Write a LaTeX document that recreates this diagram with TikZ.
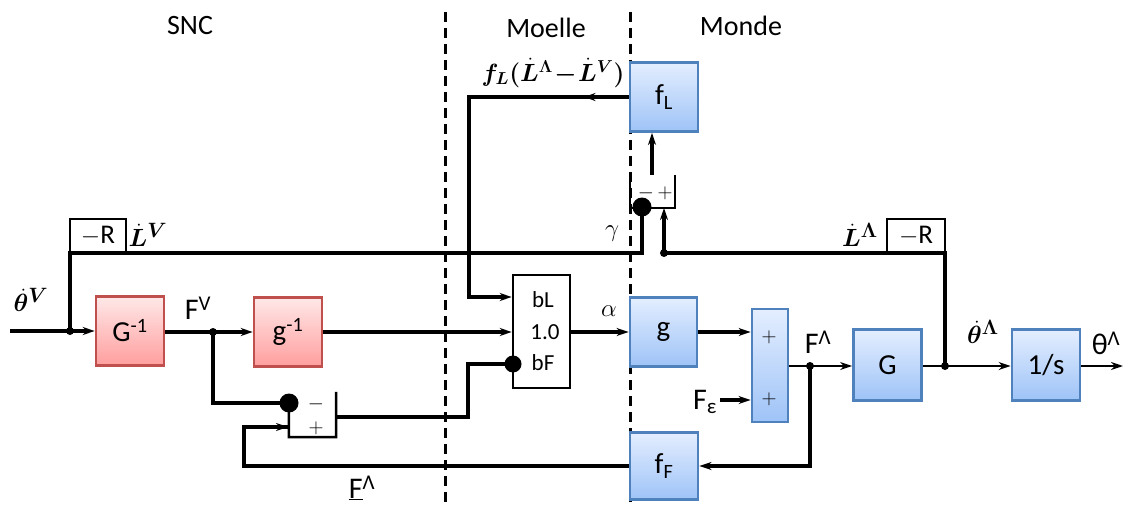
\documentclass[tikz,border=0pt]{standalone}
\usepackage{fontspec}
\setmainfont{Carlito}
\usepackage{bm}
\usetikzlibrary{arrows.meta,decorations.markings}
\definecolor{redtop}{RGB}{255,232,232}
\definecolor{redbot}{RGB}{255,158,158}
\definecolor{redborder}{RGB}{192,80,77}
\definecolor{bluetop}{RGB}{228,238,255}
\definecolor{bluebot}{RGB}{158,195,247}
\definecolor{blueborder}{RGB}{79,129,189}
\tikzset{
  wire/.style={line width=3.4pt},
  thinwire/.style={line width=2.5pt},
  conn/.style={wire, -{Stealth[length=12pt,width=8pt]}},
  thinconn/.style={thinwire, -{Stealth[length=12pt,width=8pt]}},
  blockbase/.style={inner sep=0pt, font=\fontsize{29}{30}\selectfont},
  redblock/.style={blockbase, draw=redborder, line width=2.6pt, top color=redtop, bottom color=redbot, minimum width=68pt, minimum height=69pt},
  blueblock/.style={blockbase, draw=blueborder, line width=2.8pt, top color=bluetop, bottom color=bluebot, minimum width=68pt, minimum height=69pt},
  wbox/.style={blockbase, draw, line width=2.6pt, fill=white},
  lbl/.style={inner sep=0pt, font=\fontsize{30}{32}\selectfont},
  mlbl/.style={inner sep=0pt, font=\fontsize{29}{30}\selectfont},
  sign/.style={inner sep=0pt, font=\fontsize{21}{21}\selectfont},
  muxtxt/.style={inner sep=0pt, font=\fontsize{23}{24}\selectfont},
  hdr/.style={inner sep=0pt, font=\fontsize{28}{30}\selectfont},
  divider/.style={line width=3pt, dash pattern=on 10pt off 6pt},
  midarrow/.style={postaction={decorate}, decoration={markings, mark=at position #1 with {\arrow{Stealth[length=12pt,width=8pt]}}}},
}
\begin{document}
\begin{tikzpicture}[x=1pt,y=-1pt]
\useasboundingbox (0,0) rectangle (1125,508);

% dividers
\draw[divider] (445,12) -- (445,508);
\draw[divider] (630,12) -- (630,508);

% headers
\node[hdr] (hSNC) at (190,26) {SNC};
\node[hdr] (hMo) at (546,28) {Moelle};
\node[hdr] (hMd) at (741,26) {Monde};

% blocks
\node[redblock] (Ginv) at (130,331) {G\textsuperscript{-1}};
\node[redblock] (ginv) at (288,332) {g\textsuperscript{-1}};
\node[wbox, minimum width=57pt, minimum height=113pt] (mux) at (541.5,331.5) {};
\node[muxtxt] (mbL) at (543,300) {bL};
\node[muxtxt] (m10) at (545,332) {1.0};
\node[muxtxt] (mbF) at (543,363) {bF};
\node[blueblock, minimum width=67pt] (g) at (663.5,332) {g};
\node[blueblock, minimum width=36pt, minimum height=113pt] (sumR) at (770,365.5) {};
\node[sign] (sR1) at (769,337) {$+$};
\node[sign] (sR2) at (769,399) {$+$};
\node[blueblock, minimum height=71pt] (G) at (887.5,365) {G};
\node[blueblock, minimum height=71pt] (inte) at (1046,365) {1/s};
\node[blueblock] (fL) at (664,97) {f\textsubscript{L}};
\node[blueblock, minimum height=67pt] (fF) at (664,466) {f\textsubscript{F}};
\node[wbox, minimum width=56pt, minimum height=34pt, font=\fontsize{27}{28}\selectfont] (RL) at (98,236) {$-$R};
\node[wbox, minimum width=58pt, minimum height=34pt, font=\fontsize{27}{28}\selectfont] (RR) at (916,236) {$-$R};

% summing boxes (open top)
\node[minimum width=45pt, minimum height=33pt, inner sep=0pt] (s1) at (652.5,191.5) {};
\draw[thinwire] (s1.north west) -- (s1.south west) -- (s1.south east) -- (s1.north east);
\node[sign] (s1m) at (646,193) {$-$};
\node[sign] (s1p) at (665,193) {$+$};
\node[minimum width=47pt, minimum height=45pt, inner sep=0pt] (s2) at (312.5,414.5) {};
\draw[thinwire] (s2.north east) -- (s2.south east) -- (s2.south west) -- (289,395);
\node[sign] (s2m) at (316,404) {$-$};
\node[sign] (s2p) at (316,428) {$+$};

% coordinates
\coordinate (in) at (10,331);
\coordinate (j1) at (70,331);
\coordinate (jFV) at (213,332);
\coordinate (gturn) at (642,253);
\coordinate (s1dot) at (642,207);
\coordinate (jL) at (664,253);
\coordinate (s1plus) at (664,208);
\coordinate (s1out) at (652,175);
\coordinate (bLturn) at (469,297);
\coordinate (jF) at (810,366);
\coordinate (jTh) at (945,366);
\coordinate (out) at (1123,366);
\coordinate (fFturn) at (810,466);
\coordinate (fbturn) at (244,466);
\coordinate (s2plus) at (288,427);
\coordinate (s2dot) at (289,403);
\coordinate (s2out) at (336,417);
\coordinate (bFturn) at (468,364);
\coordinate (bFdot) at (513,364);
\coordinate (epsin) at (720,400);

% connectors
\draw[wire] (in) -- (j1);
\draw[conn] (j1) -- (Ginv.west);
\draw[wire] (Ginv.east |- jFV) -- (jFV);
\draw[conn] (jFV) -- (ginv.west |- jFV);
\draw[conn] (ginv.east) -- (ginv.east -| mux.west);
\draw[wire] (j1) |- (gturn) -- (s1dot);
\draw[wire] (jTh) |- (jL);
\draw[conn] (jL) -- (s1plus);
\draw[conn] (s1out) -- (s1out |- fL.south);
\draw[conn, midarrow=45pt] (fL.west) -| (bLturn) -- (bLturn -| mux.west);
\draw[conn] (mux.east |- m10) -- (g.west |- m10);
\draw[conn] (g.east) -- (g.east -| sumR.west);
\node[lbl] (Feps) at (705,402) {F\textsubscript{ε}};
\draw[conn] (epsin) -- (sumR.west |- epsin);
\draw[thinwire] (sumR.east |- jF) -- (jF);
\draw[thinconn] (jF) -- (G.west |- jF);
\draw[thinwire] (G.east |- jTh) -- (jTh);
\draw[thinconn] (jTh) -- (inte.west |- jTh);
\draw[thinconn] (inte.east |- jTh) -- (out);
\draw[conn] (jF) -- (fFturn) -- (fF.east);
\draw[wire] (fF.west) -- (fbturn) |- (s2plus);
\draw[conn] (fbturn |- s2plus) -- (s2plus);
\draw[wire] (jFV) |- (s2dot);
\draw[wire] (s2out) -| (bFturn) -- (bFdot);

% dots
\foreach \p in {j1,jFV,jL,jF,jTh} \fill (\p) circle (4pt);
\fill (s1dot) circle (9.5pt);
\fill (s2dot) circle (9.5pt);
\fill (bFdot) circle (8.5pt);

% labels
\node[mlbl] (lthV) at (31,300) {$\bm{\dot\theta}^{\bm{V}}$};
\node[mlbl] (lLV) at (148,235) {$\bm{\dot L^{V}}$};
\node[lbl] (lFV) at (198,308) {F\textsuperscript{V}};
\node[inner sep=0pt, font=\fontsize{32}{32}\selectfont] (lgam) at (612,234) {$\gamma$};
\node[inner sep=0pt, font=\fontsize{32}{32}\selectfont] (lal) at (609,311) {$\alpha$};
\node[inner sep=0pt, font=\fontsize{27}{28}\selectfont] (lfL) at (553,73) {$\bm{f_L(\dot L^{\Lambda}\!-\!\dot L^{V})}$};
\node[mlbl] (lLA) at (860,235) {$\bm{\dot L^{\Lambda}}$};
\node[lbl] (lFA) at (818,342) {F\textsuperscript{Λ}};
\node[mlbl] (lthA) at (983,332) {$\bm{\dot\theta^{\Lambda}}$};
\node[lbl] (lthO) at (1106,343) {θ\textsuperscript{Λ}};
\node[lbl] (lFu) at (362,488) {\underline{F}\textsuperscript{Λ}};
\end{tikzpicture}
\end{document}
